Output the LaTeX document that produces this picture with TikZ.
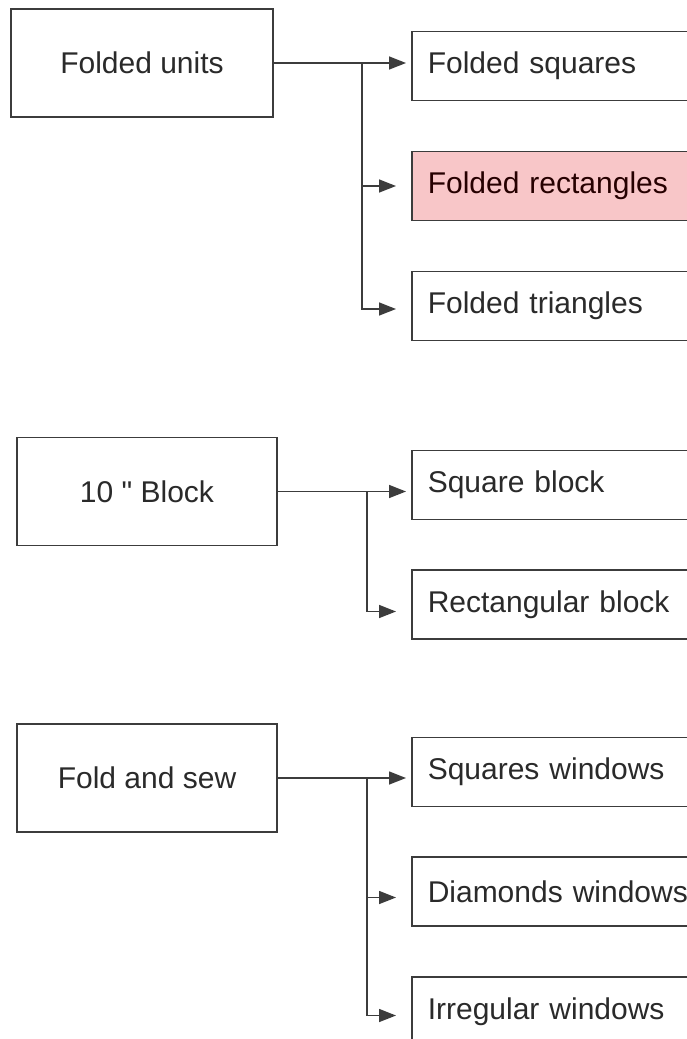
\documentclass[tikz,border=0pt]{standalone}
\usepackage{fontspec}
\setmainfont{Liberation Sans}
\usepackage{xcolor}
\usepackage{tikz}
\usetikzlibrary{arrows.meta}

\definecolor{linegray}{HTML}{3C3C3C}
\definecolor{textgray}{HTML}{2A2A2A}
\definecolor{pinkfill}{HTML}{F8C6C8}

\begin{document}
\begin{tikzpicture}[x=1pt, y=1pt,
    every node/.style={font=\fontsize{30}{35}\selectfont, text=textgray},
    topic/.style={draw=linegray, line width=1.5pt, rectangle, minimum width=260pt, minimum height=108pt},
    item/.style={draw=linegray, line width=1.5pt, rectangle, anchor=west, minimum height=69pt, text width=290pt, inner xsep=16pt, align=left},
    link/.style={draw=linegray, line width=1.5pt, -{Triangle[length=17pt, width=13pt]}, shorten >=5pt},
    branch/.style={link, shorten >=15pt}]
    \useasboundingbox[fill=white] (0,0) rectangle (687,-1039);

    % group 1
    \node[topic, minimum width=262pt] (units) at (142,-63) {Folded units};
    \node[item] (squares) at (411,-66) {Folded squares};
    \node[item, fill=pinkfill, text=black!85!red] (rectangles) at (411,-186) {Folded rectangles};
    \node[item] (triangles) at (411,-306) {Folded triangles};
    \draw[link] (units.east) -- (units.east -| squares.west);
    \draw[branch] (units.east) ++(88,0) |- (rectangles.west);
    \draw[branch] (units.east) ++(88,0) |- ([yshift=-3pt]triangles.west);

    % group 2
    \node[topic] (block) at (147,-491.5) {10 \textquotedbl\ Block};
    \node[item] (sqblock) at (411,-485) {Square block};
    \node[item] (rectblock) at (411,-604.5) {Rectangular block};
    \draw[link] (block.east) -- (block.east -| sqblock.west);
    \draw[branch] (block.east) ++(89,0) |- ([yshift=-7pt]rectblock.west);

    % group 3
    \node[topic] (sew) at (147,-778) {Fold and sew};
    \node[item] (sqwin) at (411,-772) {Squares windows};
    \node[item] (diawin) at (411,-891.5) {Diamonds windows};
    \node[item] (irrwin) at (411,-1011.5) {Irregular windows};
    \draw[link] (sew.east) -- (sew.east -| sqwin.west);
    \draw[branch] (sew.east) ++(89,0) |- ([yshift=-6pt]diawin.west);
    \draw[branch] (sew.east) ++(89,0) |- ([yshift=-4pt]irrwin.west);
\end{tikzpicture}
\end{document}
